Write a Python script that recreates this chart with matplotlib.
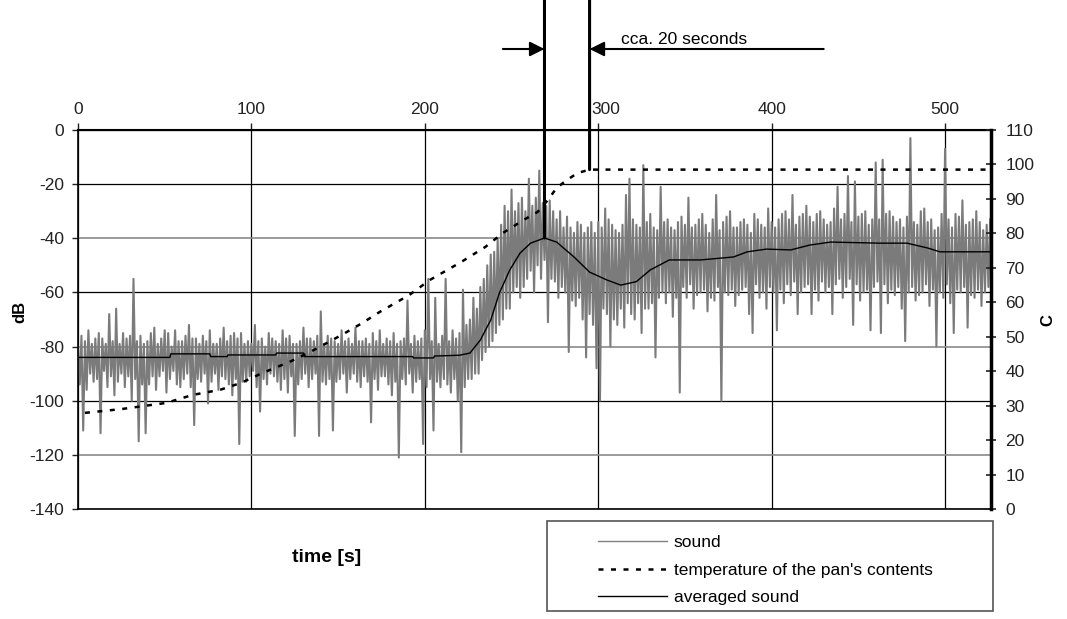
import numpy as np
import matplotlib
matplotlib.use('Agg')
import matplotlib.pyplot as plt
from matplotlib.patches import Rectangle
from matplotlib.lines import Line2D
from matplotlib.transforms import ScaledTranslation

plt.rcParams['font.family'] = ['Liberation Sans', 'DejaVu Sans']
plt.rcParams['axes.unicode_minus'] = False

# -------------------------------------------------
# Datos
sound_step = 1  # s entre muestras
sound_db = [
    # 0 - 219 s: ruido de fondo
    -80, -94, -76, -111, -78, -96, -74, -90, -79, -93, -77, -92, -75, -112, -77, -89, -79, -95, -68, -91,
    -78, -98, -66, -93, -79, -90, -75, -95, -77, -91, -76, -100, -55, -92, -78, -115, -76, -94, -79, -112,
    -78, -94, -75, -91, -73, -96, -79, -91, -77, -89, -74, -97, -75, -92, -80, -89, -74, -94, -78, -95,
    -78, -92, -76, -90, -72, -95, -77, -109, -77, -92, -79, -93, -76, -90, -78, -101, -74, -93, -79, -90,
    -79, -96, -77, -91, -73, -92, -78, -94, -76, -98, -75, -92, -77, -116, -75, -93, -79, -93, -78, -91,
    -79, -89, -72, -95, -78, -104, -77, -92, -80, -94, -75, -90, -77, -91, -78, -93, -79, -96, -74, -92,
    -77, -97, -76, -91, -79, -113, -79, -94, -78, -92, -73, -90, -77, -95, -77, -92, -78, -90, -76, -113,
    -67, -93, -79, -94, -76, -92, -77, -111, -78, -93, -79, -92, -74, -90, -78, -97, -77, -92, -79, -90,
    -73, -93, -78, -95, -78, -91, -77, -93, -79, -108, -75, -92, -78, -96, -74, -91, -79, -91, -77, -94,
    -78, -98, -75, -93, -79, -121, -78, -92, -77, -94, -63, -90, -79, -97, -76, -93, -78, -92, -77, -116,
    -74, -95, -55, -92, -78, -111, -62, -93, -79, -95, -76, -92, -55, -94, -78, -97, -74, -92, -77, -100,
    # 220 - 299 s: subida hasta la ebullicion
    -75, -119, -59, -95, -72, -92, -70, -92, -62, -90, -66, -90, -58, -85, -55, -82, -50, -80, -46, -78,
    -45, -75, -40, -72, -35, -70, -28, -66, -30, -66, -22, -60, -30, -58, -27, -62, -25, -58, -30, -55,
    -18, -52, -28, -60, -25, -50, -15, -55, -27, -48, -28, -71, -26, -55, -30, -56, -33, -62, -30, -58,
    -36, -60, -32, -82, -36, -63, -38, -65, -34, -62, -35, -70, -38, -84, -36, -68, -34, -72, -38, -88,
    # 300 - 526 s: hirviendo
    -34, -100, -36, -66, -29, -68, -33, -80, -35, -70, -37, -72, -38, -66, -35, -73, -24, -64, -18, -68,
    -33, -70, -35, -64, -36, -75, -13, -66, -34, -66, -31, -64, -36, -84, -37, -62, -21, -60, -34, -64,
    -33, -60, -36, -69, -37, -62, -34, -97, -32, -58, -35, -62, -25, -57, -36, -66, -35, -61, -33, -60,
    -31, -59, -35, -67, -38, -62, -33, -63, -24, -58, -37, -100, -34, -60, -32, -61, -30, -59, -36, -65,
    -36, -61, -34, -59, -33, -58, -35, -68, -38, -75, -31, -57, -33, -62, -35, -60, -36, -66, -29, -58,
    -34, -60, -36, -74, -33, -59, -31, -64, -30, -57, -33, -61, -24, -56, -35, -68, -32, -60, -31, -58,
    -28, -57, -32, -68, -34, -59, -31, -63, -30, -56, -33, -60, -35, -58, -34, -68, -29, -57, -21, -55,
    -33, -62, -31, -58, -17, -55, -34, -72, -19, -57, -32, -63, -31, -60, -30, -59, -35, -74, -33, -58,
    -12, -56, -33, -75, -11, -57, -31, -64, -30, -59, -32, -61, -34, -58, -33, -66, -36, -78, -32, -60,
    -3, -58, -34, -63, -35, -61, -30, -60, -29, -57, -34, -65, -33, -59, -37, -80, -36, -60, -31, -62,
    -7, -57, -33, -64, -36, -75, -31, -59, -32, -60, -26, -58, -35, -73, -34, -61, -33, -62, -30, -59,
    -34, -65, -37, -60, -35, -58, -33,
]

temp_t = [4, 25, 51, 66, 82, 94, 106, 122, 134, 152, 164, 174, 191, 203,
          221, 235, 245, 257, 265, 271, 276, 282, 288, 295, 526]
temp_c = [27.9, 29.0, 30.8, 33.1, 34.6, 36.6, 39.4, 42.7, 45.6, 50.5, 54.0,
          57.2, 62.1, 66.5, 71.7, 76.1, 80.1, 83.9, 86.2, 89.7, 93.2, 95.5,
          97.5, 98.5, 98.5]

avg_t = [0, 53, 53.5, 76, 76.5, 86, 86.5, 114, 114.5, 130, 130.5, 193, 193.5,
         205, 205.5, 220, 226, 232, 238, 243, 249, 255, 261, 269, 276, 286,
         295, 305, 313, 322, 330, 341, 359, 378, 386, 397, 411, 422, 434,
         462, 478, 490, 497, 526]
avg_db = [-84, -84, -82.7, -82.7, -83.7, -83.7, -83.1, -83.1, -82.4, -82.4,
          -83.7, -83.7, -84.2, -84.2, -83.5, -83.2, -82.4, -77.6, -70.2,
          -60.2, -51.7, -45.4, -41.8, -39.9, -41.4, -46.9, -52.5, -55.4,
          -57.3, -56, -51.7, -48, -48, -46.9, -45, -44, -44.3, -42.5, -41.4,
          -41.8, -41.8, -43.6, -45, -45]

x_ticks = [0, 100, 200, 300, 400, 500]
db_ticks = [-140, -120, -100, -80, -60, -40, -20, 0]
c_ticks = [0, 10, 20, 30, 40, 50, 60, 70, 80, 90, 100, 110]

sound_t = np.arange(len(sound_db)) * sound_step

# -------------------------------------------------
# Grafico
fig = plt.figure(figsize=(10.67, 6.19), dpi=100)
ax = fig.add_axes([0.0731, 0.1777, 0.8557, 0.6123])
ax2 = ax.twinx()

ax.plot(sound_t, sound_db, color='#7b7b7b', lw=1.5, zorder=2)
l_avg, = ax.plot(avg_t, avg_db, color='black', lw=1.0, zorder=4)
l_temp, = ax2.plot(temp_t, temp_c, color='black', lw=1.8, ls=(0, (2, 3)))

ax.set_xlim(0, 526.5)
ax.set_ylim(-140, 0)
ax2.set_ylim(0, 110)

ax.xaxis.tick_top()
ax.set_xticks(x_ticks)
ax.set_yticks(db_ticks)
ax2.set_yticks(c_ticks)
ax.tick_params(axis='x', direction='out', length=5, width=1, pad=4,
               labelsize=12.5, colors='#222222')
ax.tick_params(axis='y', direction='out', length=4, width=1, pad=6,
               labelsize=12.5, colors='#222222')
ax2.tick_params(axis='y', direction='inout', length=7, width=1.2, pad=7,
                labelsize=12.5, colors='#222222')

# el "300" esta un poco corrido a la derecha en el original
for val, lab in zip(x_ticks, ax.get_xticklabels()):
    if val == 300:
        lab.set_transform(lab.get_transform() +
                          ScaledTranslation(0.08, 0, fig.dpi_scale_trans))

ax.set_axisbelow(True)
ax.grid(True, color='black', lw=0.9)
for val, gl in zip(db_ticks, ax.get_ygridlines()):
    if val in (-120, -80, -40):
        gl.set_color('#8a8a8a')
        gl.set_linewidth(1.2)

for s in ['top', 'left', 'bottom']:
    ax2.spines[s].set_visible(False)
ax.spines['right'].set_visible(False)
ax.spines['top'].set_linewidth(1.5)
ax.spines['left'].set_linewidth(1.2)
ax.spines['bottom'].set_linewidth(1.2)
ax2.spines['right'].set_linewidth(2.5)

fig.text(327 / 1067, 1 - 558 / 619, 'time [s]', fontsize=14,
         fontweight='bold', ha='center', va='center')
fig.text(20 / 1067, 1 - 312 / 619, 'dB', fontsize=12, fontweight='bold',
         rotation=90, ha='center', va='center')
fig.text(1048 / 1067, 1 - 320 / 619, 'C', fontsize=12, fontweight='bold',
         rotation=90, ha='center', va='center')

# Anotacion: pico del sonido promedio y llegada a la ebullicion
i_peak = int(np.argmax(avg_db))
t_peak, db_peak = avg_t[i_peak], avg_db[i_peak]
i_boil = next(i for i, c in enumerate(temp_c) if c >= 98.5)
t_boil, c_boil = temp_t[i_boil], temp_c[i_boil]

line_kw = dict(arrowstyle='-', lw=2.2, color='black', shrinkA=0, shrinkB=0)
ax.annotate('', xy=(t_peak, db_peak), xycoords='data',
            xytext=(t_peak, 1.0), textcoords=('data', 'figure fraction'),
            arrowprops=line_kw, annotation_clip=False)
ax2.annotate('', xy=(t_boil, c_boil), xycoords='data',
             xytext=(t_boil, 1.0), textcoords=('data', 'figure fraction'),
             arrowprops=line_kw, annotation_clip=False)

arrow_y = 1 - 49 / 619
arr_kw = dict(arrowstyle='-|>', lw=1.5, color='black', mutation_scale=22,
              shrinkA=0, shrinkB=0)
ax.annotate('', xy=(t_peak, arrow_y), xycoords=('data', 'figure fraction'),
            xytext=(245, arrow_y), textcoords=('data', 'figure fraction'),
            arrowprops=arr_kw, annotation_clip=False)
ax.annotate('', xy=(t_boil, arrow_y), xycoords=('data', 'figure fraction'),
            xytext=(430, arrow_y), textcoords=('data', 'figure fraction'),
            arrowprops=arr_kw, annotation_clip=False)
ax.annotate('cca. 20 seconds', xy=(313, 1 - 39 / 619),
            xycoords=('data', 'figure fraction'), fontsize=12.5,
            ha='left', va='center', annotation_clip=False)

# Leyenda con marco propio (linea fina para "sound")
h_sound = Line2D([], [], color='#808080', lw=1.0)
fig.legend([h_sound, l_temp, l_avg],
           ['sound', "temperature of the pan's contents", 'averaged sound'],
           loc='upper left', bbox_to_anchor=(598 / 1067, 1 - 535 / 619),
           frameon=False, fontsize=12.5, handlelength=4.0, handletextpad=0.35,
           labelspacing=0.72, borderpad=0, borderaxespad=0)
fig.add_artist(Rectangle((547 / 1067, 1 - 611 / 619), 446 / 1067, 90 / 619,
                         transform=fig.transFigure, fill=False,
                         edgecolor='#555555', lw=1.2))

fig.savefig('out.png', dpi=100)
